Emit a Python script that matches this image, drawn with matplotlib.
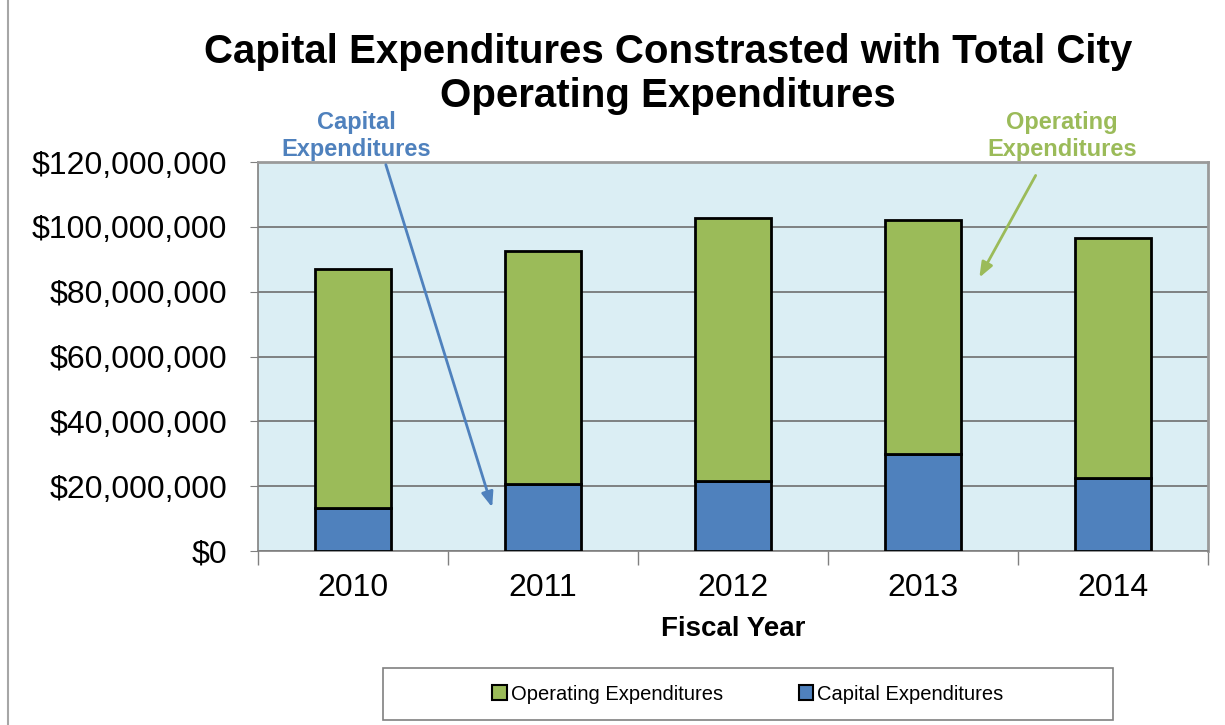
import matplotlib
matplotlib.use("Agg")
import matplotlib.pyplot as plt
from matplotlib.ticker import FuncFormatter, MultipleLocator
from matplotlib.patches import Rectangle, Patch
import numpy as np

years = ["2010", "2011", "2012", "2013", "2014"]
capital = [13.3e6, 20.7e6, 21.6e6, 29.9e6, 22.5e6]
operating_total = [87.0e6, 92.5e6, 102.7e6, 102.1e6, 96.5e6]

plt.rcParams['font.family'] = ['Liberation Sans', 'DejaVu Sans']

W, H = 1225, 725
fig = plt.figure(figsize=(W / 100, H / 100), dpi=100)

# outer frame
fig.patches.append(Rectangle((8 / W, -0.01), 1.0, 1.02, transform=fig.transFigure,
                             fill=False, edgecolor='#A6A6A6', linewidth=1.5))

ax = fig.add_axes([258 / W, 1 - 551 / H, 950 / W, 389 / H])
ax.set_facecolor('#DBEEF4')

x = np.arange(len(years))
op_seg = [t - c for t, c in zip(operating_total, capital)]
ax.bar(x, capital, width=0.4, color='#4F81BD', edgecolor='black', linewidth=2, zorder=3)
ax.bar(x, op_seg, bottom=capital, width=0.4, color='#9BBB59', edgecolor='black', linewidth=2, zorder=3)

ax.set_xlim(-0.5, len(years) - 0.5)
ax.set_ylim(0, 120e6)
ax.yaxis.set_major_locator(MultipleLocator(20e6))
ax.yaxis.set_major_formatter(FuncFormatter(lambda v, p: "${:,.0f}".format(v)))
ax.grid(axis='y', color='#6E6E6E', linewidth=1.2, zorder=1)
ax.set_axisbelow(True)

ax.set_xticks(x)
ax.set_xticklabels(years, fontsize=23)
ax.tick_params(axis='x', length=0, pad=16)
ax.set_xticks(np.arange(-0.5, len(years), 1.0), minor=True)
ax.tick_params(axis='x', which='minor', length=10, color='#808080', width=1)
ax.tick_params(axis='y', labelsize=23, length=6, color='#808080', pad=16)

for s in ['left', 'bottom']:
    ax.spines[s].set_color('#808080')
    ax.spines[s].set_linewidth(1.2)
for s in ['top', 'right']:
    ax.spines[s].set_color('#9A9A9A')
    ax.spines[s].set_linewidth(2)

ax.set_xlabel("Fiscal Year", fontsize=20, fontweight='bold', labelpad=9)

fig.text(668 / W, 1 - 74 / H, "Capital Expenditures Constrasted with Total City\nOperating Expenditures",
         ha='center', va='center', fontsize=29, fontweight='bold', linespacing=1.17)

fig.text(356 / W, 1 - 136 / H, "Capital\nExpenditures", ha='center', va='center',
         fontsize=17, fontweight='bold', color='#4F81BD', linespacing=1.2)
fig.text(1062 / W, 1 - 136 / H, "Operating\nExpenditures", ha='center', va='center',
         fontsize=17, fontweight='bold', color='#9BBB59', linespacing=1.2)

ax.annotate("", xy=(493, H - 510), xytext=(385, H - 162), xycoords='figure pixels',
            textcoords='figure pixels',
            arrowprops=dict(arrowstyle='-|>,head_length=0.9,head_width=0.35', color='#4F81BD', lw=2))
ax.annotate("", xy=(978, H - 280), xytext=(1037, H - 173), xycoords='figure pixels',
            textcoords='figure pixels',
            arrowprops=dict(arrowstyle='-|>,head_length=0.9,head_width=0.35', color='#9BBB59', lw=2))

handles = [Patch(facecolor='#9BBB59', edgecolor='black', linewidth=1.5),
           Patch(facecolor='#4F81BD', edgecolor='black', linewidth=1.5)]
leg = fig.legend(handles, ["Operating Expenditures", "Capital Expenditures"],
                 loc='center', bbox_to_anchor=(383 / W, 1 - 720 / H, 730 / W, 52 / H),
                 bbox_transform=fig.transFigure, ncol=2, fontsize=14.5, frameon=False,
                 handlelength=0.7, handleheight=0.7, handletextpad=0.2, columnspacing=3.8)
fig.patches.append(Rectangle((383 / W, 1 - 720 / H), 730 / W, 52 / H, transform=fig.transFigure,
                             fill=False, edgecolor='#808080', linewidth=1.2))

fig.savefig("out.png", dpi=100)
